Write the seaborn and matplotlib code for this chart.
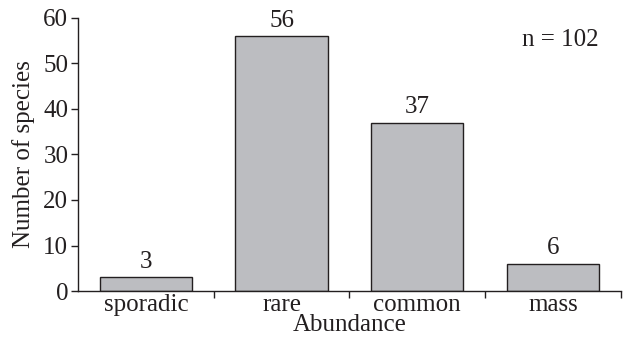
import numpy as np
import pandas as pd
import matplotlib
matplotlib.use("Agg")
import matplotlib.pyplot as plt
import seaborn as sns

# data
categories = ["sporadic", "rare", "common", "mass"]
species_counts = [3, 56, 37, 6]
n_total = 102

sns.set_style("ticks")
plt.rcParams['font.family'] = ['Liberation Serif', 'DejaVu Serif']
plt.rcParams['text.color'] = '#231f20'
plt.rcParams['axes.labelcolor'] = '#231f20'
plt.rcParams['xtick.color'] = '#231f20'
plt.rcParams['ytick.color'] = '#231f20'

fs = 18

df = pd.DataFrame({"Abundance": categories, "Number of species": species_counts})

fig, ax = plt.subplots(figsize=(6.24, 3.38), dpi=100)
fig.subplots_adjust(left=0.125, right=0.995, top=0.947, bottom=0.139)

sns.barplot(data=df, x="Abundance", y="Number of species", color="#bcbdc1",
            edgecolor="#231f20", linewidth=1.0, width=0.68, saturation=1, ax=ax)

for i, v in enumerate(species_counts):
    ax.text(i, v + 1.0, str(v), ha='center', va='bottom', fontsize=fs)

ax.text(0.888, 0.919, f"n = {n_total}", transform=ax.transAxes,
        ha='center', va='center', fontsize=fs)

ax.set_xlim(-0.5, 3.5)
ax.set_ylim(0, 60)
ax.set_yticks(np.arange(0, 61, 10))

# category labels without ticks, boundary ticks between categories
ax.set_xticks(np.arange(len(categories)))
ax.set_xticklabels(categories, fontsize=fs)
ax.tick_params(axis='x', which='major', length=0, pad=2)
ax.set_xticks(np.arange(0.5, len(categories)), minor=True)
ax.tick_params(axis='x', which='minor', length=5, width=1, direction='out')
ax.tick_params(axis='y', labelsize=fs, length=5, width=1, direction='out', pad=2)

ax.set_xlabel("Abundance", fontsize=fs, labelpad=-1)
ax.set_ylabel("Number of species", fontsize=fs, labelpad=6)

for s in ['top', 'right']:
    ax.spines[s].set_visible(False)
for s in ['left', 'bottom']:
    ax.spines[s].set_linewidth(1.0)
    ax.spines[s].set_color('#231f20')

fig.savefig("out.png", dpi=100)
